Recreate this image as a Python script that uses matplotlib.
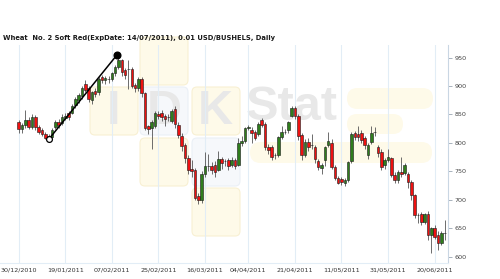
import matplotlib
matplotlib.use("Agg")
import matplotlib.pyplot as plt
from matplotlib.patches import FancyBboxPatch
import numpy as np

title = "Wheat  No. 2 Soft Red(ExpDate: 14/07/2011), 0.01 USD/BUSHELS, Daily"

# daily OHLC, one row per trading day
opens = [836, 824, 831, 840, 828, 846, 828, 822, 816, 812, 811, 828, 837, 835, 844, 852, 853, 866, 875, 882,
         904, 896, 875, 892, 889, 916, 910, 912, 913, 922, 933, 945, 928, 930, 930, 902, 897, 912, 888, 829,
         826, 830, 850, 852, 848, 845, 838, 860, 832, 813, 796, 773, 754, 752, 707, 700, 745, 760, 760, 762,
         752, 772, 768, 770, 762, 770, 762, 800, 803, 826, 823, 819, 815, 840, 833, 793, 793, 778, 778, 810,
         820, 822, 848, 862, 847, 814, 778, 802, 797, 793, 769, 756, 770, 797, 800, 758, 738, 736, 729, 735,
         768, 817, 816, 817, 808, 778, 802, 819, 793, 784, 761, 770, 773, 743, 735, 749, 747, 745, 732, 708,
         673, 675, 661, 675, 638, 650, 638, 624, 641]
highs = [841, 835, 857, 845, 850, 849, 832, 826, 820, 815, 826, 840, 842, 850, 852, 856, 868, 880, 888, 900,
         910, 900, 892, 897, 916, 920, 918, 918, 925, 936, 950, 948, 932, 945, 934, 906, 915, 915, 890, 832,
         840, 856, 856, 858, 850, 850, 860, 864, 836, 818, 800, 778, 770, 756, 712, 750, 784, 780, 766, 768,
         785, 776, 772, 774, 775, 774, 808, 812, 828, 832, 828, 822, 836, 844, 836, 798, 796, 782, 812, 830,
         824, 838, 865, 865, 850, 818, 806, 808, 815, 797, 772, 765, 795, 820, 806, 762, 742, 740, 738, 768,
         820, 821, 830, 822, 812, 800, 830, 828, 797, 790, 774, 790, 776, 748, 752, 775, 765, 748, 735, 710,
         676, 678, 676, 680, 652, 655, 645, 646, 664]
lows = [818, 818, 826, 824, 825, 822, 815, 812, 806, 805, 808, 825, 826, 832, 840, 840, 850, 862, 870, 878,
        890, 872, 868, 880, 885, 905, 904, 905, 908, 918, 930, 918, 912, 895, 896, 890, 892, 880, 822, 815,
        790, 826, 842, 838, 830, 838, 835, 826, 808, 785, 765, 745, 740, 700, 692, 694, 740, 750, 745, 740,
        750, 755, 760, 752, 758, 755, 760, 795, 800, 822, 800, 805, 812, 828, 788, 780, 770, 772, 775, 806,
        816, 818, 845, 842, 805, 770, 775, 785, 790, 765, 752, 745, 760, 792, 755, 735, 727, 726, 725, 732,
        765, 805, 804, 800, 790, 772, 798, 812, 776, 752, 755, 766, 740, 730, 730, 740, 744, 720, 700, 668,
        660, 655, 658, 630, 606, 632, 612, 620, 630]
closes = [824, 831, 840, 828, 846, 828, 819, 816, 809, 809, 822, 837, 831, 846, 848, 845, 864, 877, 884, 897,
          893, 878, 889, 886, 913, 910, 914, 912, 922, 933, 945, 925, 920, 930, 900, 897, 912, 887, 827, 825,
          836, 852, 848, 845, 842, 845, 856, 833, 814, 794, 773, 753, 751, 704, 699, 745, 760, 760, 753, 748,
          772, 764, 768, 760, 770, 760, 800, 804, 826, 828, 818, 809, 834, 832, 793, 787, 776, 778, 810, 820,
          820, 836, 862, 847, 812, 778, 802, 793, 796, 771, 758, 762, 793, 803, 758, 739, 730, 731, 734, 766,
          815, 811, 810, 805, 796, 796, 817, 819, 782, 758, 770, 776, 743, 735, 749, 745, 761, 732, 708, 673,
          673, 661, 675, 638, 650, 635, 624, 641, 641]

date_labels = ["30/12/2010", "19/01/2011", "07/02/2011", "25/02/2011", "16/03/2011",
               "04/04/2011", "21/04/2011", "11/05/2011", "31/05/2011", "20/06/2011"]
date_bars = [0, 14, 28, 42, 56, 69, 83, 97, 111, 125]
price_ticks = [600, 650, 700, 750, 800, 850, 900, 950]

# trend line drawn on the chart (bar index, price)
trend_x = [9, 29.6]
trend_y = [806, 955]

fig = plt.figure(figsize=(5.0, 2.79), dpi=100)

# watermark layer in pixel coordinates
bg = fig.add_axes([0, 0, 1, 1], zorder=0)
bg.set_xlim(0, 500)
bg.set_ylim(279, 0)
bg.axis("off")

yellow = "#fefae9"
yellow_edge = "#f8f0d3"
blueish = "#f6f8fb"
blue_edge = "#ebf0f6"
squares = [
    (140, 37, yellow, yellow_edge),
    (90, 87, yellow, yellow_edge),
    (140, 87, blueish, blue_edge),
    (192, 87, yellow, yellow_edge),
    (140, 138, yellow, yellow_edge),
    (192, 138, blueish, blue_edge),
    (192, 188, yellow, yellow_edge),
]
for sx, sy, fc, ec in squares:
    bg.add_patch(FancyBboxPatch((sx + 5, sy + 5), 38, 38, boxstyle="round,pad=5",
                                fc=fc, ec=ec, lw=0.8))
bars_wm = [(347, 88, 86, 21), (347, 114, 56, 20), (250, 142, 182, 21)]
for bx, by, bw, bh in bars_wm:
    bg.add_patch(FancyBboxPatch((bx, by), bw, bh,
                                boxstyle="round,pad=0,rounding_size=%g" % (bh / 2),
                                fc=yellow, ec="none", lw=0))
wm_font = dict(family="Liberation Sans", weight="bold", color="#e8e8e8", fontsize=35,
               ha="center", va="center")
bg.text(113, 112, "I", **wm_font)
bg.text(164, 112, "D", **wm_font)
bg.text(215, 112, "K", **wm_font)
bg.text(292, 108, "Stat", **wm_font)

ax = fig.add_axes([0.0, 16 / 279, 448 / 500, (263 - 45) / 279], zorder=1)
ax.patch.set_alpha(0)

x = np.arange(len(closes))
o = np.array(opens)
c = np.array(closes)
up = c >= o
colors = np.where(up, "#2f7d1c", "#ee1111")

ax.vlines(x, lows, highs, color="#555555", lw=0.6, zorder=2)
ax.bar(x, np.abs(c - o), bottom=np.minimum(o, c), width=0.78, color=colors,
       edgecolor="#1a1a1a", linewidth=0.4, zorder=3)

ax.plot(trend_x, trend_y, color="black", lw=1.1, zorder=4)
ax.plot(trend_x[:1], trend_y[:1], "o", ms=4.2, mfc="white", mec="black", mew=0.9, zorder=5)
ax.plot(trend_x[1:], trend_y[1:], "o", ms=4.8, color="black", zorder=5)

ax.set_xlim(-5.6, 129)
ax.set_ylim(589, 972)

ax.set_xticks(date_bars)
ax.set_xticklabels(date_labels)
ax.set_yticks(price_ticks)
ax.yaxis.tick_right()
ax.tick_params(axis="y", length=3, width=0.6, color="#9aa6b2", pad=1.5,
               labelsize=4.6, labelcolor="#444444")
ax.tick_params(axis="x", length=0, pad=3, labelsize=4.6, labelcolor="#333333")
ax.grid(axis="x", color="#e2edf6", lw=0.8, zorder=1)

for side in ["top", "left"]:
    ax.spines[side].set_visible(False)
ax.spines["right"].set_color("#c9d6e3")
ax.spines["right"].set_linewidth(0.8)
ax.spines["bottom"].set_color("#e2edf6")
ax.spines["bottom"].set_linewidth(0.8)

fig.text(3 / 500, 1 - 38 / 279, title, fontsize=4.9, weight="bold", color="#1a1a1a",
         ha="left", va="center")

fig.savefig("out.png", dpi=100)
